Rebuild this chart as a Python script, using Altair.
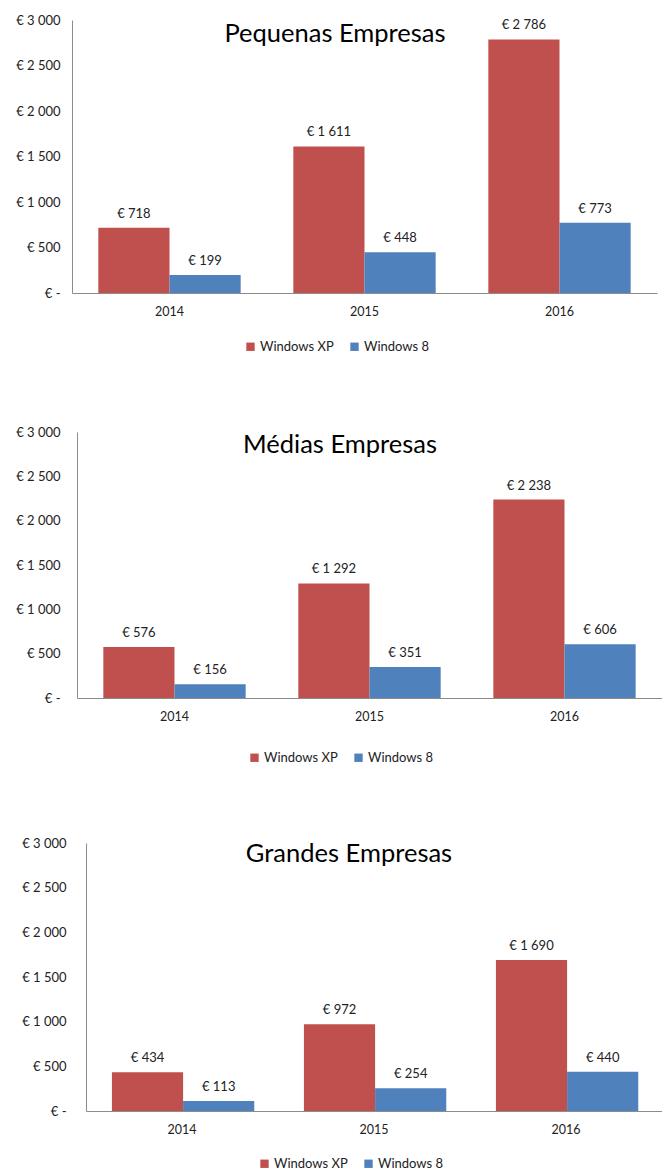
import altair as alt
import pandas as pd

years = ["2014", "2015", "2016"]
series_names = ["Windows XP", "Windows 8"]
panel_titles = ["Pequenas Empresas", "Médias Empresas", "Grandes Empresas"]
xp_values = [[718, 1611, 2786], [576, 1292, 2238], [434, 972, 1690]]
w8_values = [[199, 448, 773], [156, 351, 606], [113, 254, 440]]
y_ticks = [0, 500, 1000, 1500, 2000, 2500, 3000]
colors = ["#C0504D", "#4F81BD"]

FONT = "Lato"
widths = [585, 585, 576]
heights = [273, 266, 268]
label_pads = [12, 17, 20]
left_gaps = [1, 2, 9]
legend_x = [232, 236, 246]
legend_y = [320, 319, 314]
title_y = [22, 21, 19]

euro = "'€ ' + replace(format(datum.value, ','), ',', ' ')"


def panel(i):
    df = pd.DataFrame({
        "year": years * 2,
        "series": [series_names[0]] * 3 + [series_names[1]] * 3,
        "value": xp_values[i] + w8_values[i],
    })
    base = alt.Chart(df).transform_calculate(label=euro).encode(
        x=alt.X("year:N", sort=years,
                scale=alt.Scale(paddingInner=0.27, paddingOuter=0.135),
                axis=alt.Axis(title=None, labelAngle=0, ticks=False,
                              domainColor="#8c8c8c", labelPadding=12,
                              labelFontSize=12.5, labelFont=FONT,
                              labelColor="#222222")),
        xOffset=alt.XOffset("series:N", sort=series_names,
                            scale=alt.Scale(paddingInner=0, paddingOuter=0)),
        y=alt.Y("value:Q",
                scale=alt.Scale(domain=[0, 3000], nice=False),
                axis=alt.Axis(title=None, values=y_ticks, grid=False,
                              ticks=False, domainColor="#8c8c8c",
                              labelExpr="datum.value == 0 ? '€ -' : " + euro,
                              labelPadding=label_pads[i], labelFontSize=13,
                              labelFont=FONT, labelColor="#222222")),
    )
    bars = base.mark_bar().encode(
        color=alt.Color("series:N", sort=series_names,
                        scale=alt.Scale(domain=series_names, range=colors),
                        legend=alt.Legend(orient="none", legendX=legend_x[i],
                                          legendY=legend_y[i],
                                          direction="horizontal", title=None,
                                          symbolType="square", symbolSize=70,
                                          symbolStrokeWidth=0,
                                          labelFontSize=13, labelFont=FONT,
                                          labelColor="#222222",
                                          columnPadding=14, labelOffset=3)),
    )
    text = base.mark_text(baseline="bottom", dy=-7, fontSize=13,
                          font=FONT, color="#222222").encode(text="label:N")
    title = alt.Chart(pd.DataFrame({"t": [panel_titles[i]]})).mark_text(
        fontSize=25.5, font=FONT, color="#000000", baseline="alphabetic",
        align="center",
    ).encode(text="t:N", x=alt.value(263), y=alt.value(title_y[i]))
    main = alt.layer(bars, text, title).properties(
        width=widths[i], height=heights[i],
    )
    spacer = alt.Chart(pd.DataFrame({"s": [0]})).mark_point(
        opacity=0
    ).encode(x=alt.value(0), y=alt.value(0)).properties(
        width=left_gaps[i], height=heights[i])
    return alt.hconcat(spacer, main, spacing=0)


chart = alt.vconcat(
    panel(0), panel(1), panel(2), spacing=72
).resolve_scale(color="independent").resolve_legend(
    color="independent"
).properties(
    padding={"left": 9, "top": 14, "right": 0, "bottom": 0}
).configure_view(stroke=None)

chart.save("out.html", embed_options={"renderer": "svg", "actions": False})
